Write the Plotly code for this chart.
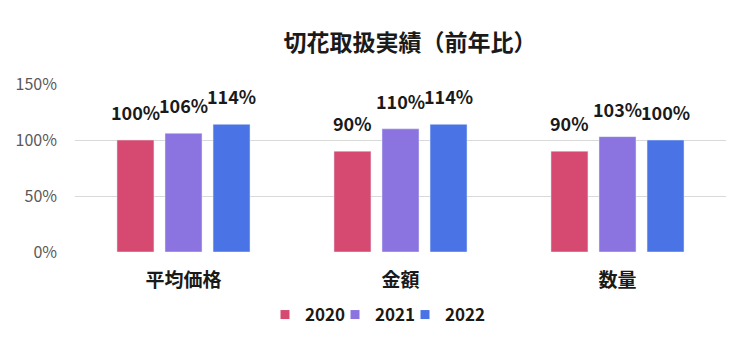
import plotly.graph_objects as go

categories = ["平均価格", "金額", "数量"]
years = ["2020", "2021", "2022"]
values_2020 = [1.00, 0.90, 0.90]
values_2021 = [1.06, 1.10, 1.03]
values_2022 = [1.14, 1.14, 1.00]
colors = ["#D64A72", "#8B73E0", "#4A74E6"]
y_ticks = [0, 0.5, 1.0, 1.5]
y_tick_labels = ["0%", "50%", "100%", "150%"]

FONT = "Noto Sans CJK JP"
W, H = 748, 355
L, R, T, B = 75, 22, 84, 103
BARGAP, GROUPGAP = 0.336, 0.23
LEGEND_X = [265, 335, 405]  # px of each legend entry's left edge

fig = go.Figure()
series = [values_2020, values_2021, values_2022]
for name, vals, c in zip(years, series, colors):
    fig.add_trace(go.Bar(
        name=name, x=categories, y=vals, marker_color=c, showlegend=False,
    ))
legend_ids = ["legend", "legend2", "legend3"]
for name, c, lid in zip(years, colors, legend_ids):
    fig.add_trace(go.Scatter(
        name=f"<b>{name}</b>", x=[None], y=[None], mode="markers",
        marker=dict(symbol="square", size=9, color=c), showlegend=True, legend=lid,
    ))

# data labels placed above bars, offset by group slot
cat_px = (W - L - R) / len(categories)
slot = cat_px * (1 - BARGAP) / len(years)
for i, vals in enumerate(series):
    for cat, v in zip(categories, vals):
        fig.add_annotation(
            x=cat, y=v, text=f"<b>{round(v*100)}%</b>", showarrow=False,
            xanchor="center", yanchor="bottom", xshift=(i - 1) * slot, yshift=13,
            font=dict(family=FONT, size=18, color="#1a1a1a"),
        )

legend_common = dict(orientation="h", yref="container", y=(H - 315) / H, yanchor="middle",
                     xref="container", xanchor="left",
                     font=dict(family=FONT, size=17, color="#1a1a1a"), itemwidth=30,
                     bgcolor="rgba(0,0,0,0)")
fig.update_layout(
    width=W, height=H,
    paper_bgcolor="white", plot_bgcolor="white",
    font=dict(family=FONT),
    title=dict(text="<b>切花取扱実績（前年比）</b>", x=0.548, xanchor="center", y=0.88, yanchor="middle",
               font=dict(family=FONT, size=23, color="#1a1a1a")),
    margin=dict(l=L, r=R, t=T, b=B),
    barmode="group", bargap=BARGAP, bargroupgap=GROUPGAP,
    showlegend=True,
    legend=dict(x=LEGEND_X[0] / W, **legend_common),
    legend2=dict(x=LEGEND_X[1] / W, **legend_common),
    legend3=dict(x=LEGEND_X[2] / W, **legend_common),
    xaxis=dict(tickfont=dict(family=FONT, size=19, color="#1a1a1a"), showline=False, ticks="",
               tickprefix="<b>", ticksuffix="</b>", ticklabelstandoff=15, automargin=False),
    yaxis=dict(range=[0, 1.5], tickvals=y_ticks, ticktext=y_tick_labels,
               tickfont=dict(family=FONT, size=16, color="#595959"),
               gridcolor="#D9D9D9", gridwidth=1, zeroline=False, showline=False,
               ticks="", ticklabelstandoff=17, automargin=False),
)
fig.write_html("out.html", config={"displayModeBar": False},
               post_script="document.body.style.margin='0';")
